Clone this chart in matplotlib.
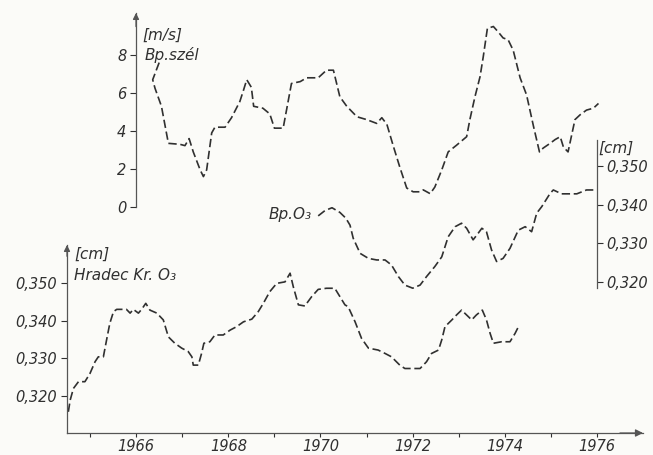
import matplotlib
matplotlib.use("Agg")
import matplotlib.pyplot as plt

# Bp. wind speed [m/s]
wind_years = [1966.50, 1966.36, 1966.41, 1966.55, 1966.70, 1966.95, 1967.06, 1967.15, 1967.24,
              1967.39, 1967.46, 1967.53, 1967.64, 1967.71, 1967.93, 1968.07, 1968.25, 1968.33,
              1968.40, 1968.50, 1968.55, 1968.75, 1968.90, 1969.00, 1969.19, 1969.37, 1969.56,
              1969.70, 1969.95, 1970.13, 1970.28, 1970.42, 1970.57, 1970.79, 1971.00, 1971.22,
              1971.33, 1971.44, 1971.58, 1971.72, 1971.87, 1972.01, 1972.16, 1972.23, 1972.38,
              1972.48, 1972.63, 1972.77, 1972.95, 1973.17, 1973.24, 1973.35, 1973.46, 1973.53,
              1973.62, 1973.75, 1973.86, 1973.96, 1974.07, 1974.18, 1974.33, 1974.47, 1974.62,
              1974.75, 1974.83, 1974.98, 1975.09, 1975.20, 1975.27, 1975.37, 1975.52, 1975.63,
              1975.77, 1975.92, 1976.03]
wind = [7.6, 6.7, 6.25, 5.3, 3.35, 3.3, 3.23, 3.6, 2.9,
        1.95, 1.6, 1.95, 3.9, 4.2, 4.2, 4.7, 5.55, 6.15,
        6.7, 6.3, 5.3, 5.2, 4.9, 4.15, 4.15, 6.5, 6.6,
        6.8, 6.8, 7.2, 7.2, 5.8, 5.3, 4.75, 4.6, 4.4,
        4.7, 4.35, 3.2, 2.1, 1.0, 0.8, 0.8, 0.9, 0.7,
        1.05, 1.95, 2.9, 3.25, 3.7, 4.6, 5.8, 6.85, 7.9,
        9.4, 9.5, 9.2, 8.9, 8.8, 8.25, 6.8, 5.9, 4.25,
        2.9, 3.1, 3.35, 3.55, 3.7, 3.15, 2.9, 4.6, 4.85,
        5.1, 5.2, 5.45]

# Bp. O3 [cm]
bp_years = [1969.95, 1970.10, 1970.25, 1970.42, 1970.55, 1970.64, 1970.71, 1970.86, 1971.04,
            1971.22, 1971.40, 1971.54, 1971.69, 1971.83, 1972.00, 1972.16, 1972.30, 1972.48,
            1972.63, 1972.77, 1972.92, 1973.06, 1973.17, 1973.31, 1973.42, 1973.50, 1973.60,
            1973.71, 1973.82, 1973.96, 1974.11, 1974.29, 1974.44, 1974.58, 1974.69, 1974.80,
            1974.98, 1975.05, 1975.23, 1975.56, 1975.77, 1975.99]
bp_o3 = [0.3371, 0.3385, 0.3392, 0.3380, 0.3365, 0.3347, 0.3313, 0.3274, 0.3261,
         0.3257, 0.3257, 0.3244, 0.3214, 0.3192, 0.3184, 0.3192, 0.3214, 0.3240,
         0.3265, 0.3317, 0.3343, 0.3352, 0.3339, 0.3309, 0.3326, 0.3339, 0.3330,
         0.3283, 0.3253, 0.3261, 0.3287, 0.3334, 0.3343, 0.3330, 0.3378, 0.3395,
         0.3429, 0.3438, 0.3428, 0.3428, 0.3438, 0.3438]

# Hradec Kralove O3 [cm]
hr_years = [1964.53, 1964.57, 1964.64, 1964.75, 1964.89, 1965.00, 1965.11, 1965.18, 1965.29,
            1965.36, 1965.43, 1965.51, 1965.58, 1965.79, 1965.87, 1965.94, 1966.05, 1966.12,
            1966.21, 1966.30, 1966.45, 1966.59, 1966.70, 1966.84, 1966.99, 1967.13, 1967.21,
            1967.24, 1967.35, 1967.42, 1967.47, 1967.60, 1967.71, 1967.89, 1968.04, 1968.18,
            1968.33, 1968.51, 1968.65, 1968.76, 1968.90, 1969.05, 1969.23, 1969.34, 1969.41,
            1969.52, 1969.66, 1969.81, 1969.95, 1970.13, 1970.31, 1970.42, 1970.53, 1970.60,
            1970.75, 1970.89, 1971.04, 1971.25, 1971.40, 1971.54, 1971.72, 1971.83, 1972.16,
            1972.30, 1972.41, 1972.56, 1972.63, 1972.70, 1972.85, 1972.95, 1973.06, 1973.17,
            1973.28, 1973.38, 1973.51, 1973.60, 1973.68, 1973.75, 1973.93, 1974.11, 1974.22,
            1974.31]
hr_o3 = [0.3158, 0.3189, 0.3220, 0.3238, 0.3238, 0.3260, 0.3291, 0.3304, 0.3304,
         0.3349, 0.3393, 0.3424, 0.3430, 0.3430, 0.3420, 0.3430, 0.3420, 0.3430,
         0.3446, 0.3428, 0.3420, 0.3402, 0.3357, 0.3340, 0.3327, 0.3318, 0.3304,
         0.3282, 0.3282, 0.3313, 0.3340, 0.3344, 0.3362, 0.3362, 0.3375, 0.3384,
         0.3397, 0.3404, 0.3424, 0.3446, 0.3477, 0.3499, 0.3503, 0.3526, 0.3490,
         0.3442, 0.3439, 0.3464, 0.3483, 0.3486, 0.3486, 0.3464, 0.3442, 0.3437,
         0.3397, 0.3353, 0.3327, 0.3322, 0.3313, 0.3304, 0.3282, 0.3273, 0.3273,
         0.3291, 0.3313, 0.3322, 0.3349, 0.3384, 0.3402, 0.3415, 0.3428, 0.3415,
         0.3402, 0.3415, 0.3428, 0.3402, 0.3366, 0.3340, 0.3344, 0.3344, 0.3366,
         0.3388]

year_ticks = list(range(1965, 1977))
year_labels = [str(y) if y % 2 == 0 else '' for y in year_ticks]
wind_ticks = [0, 2, 4, 6, 8]
o3_ticks = [0.320, 0.330, 0.340, 0.350]
o3_labels = ['0,320', '0,330', '0,340', '0,350']

W, H = 653, 455
ink = '#303030'
axis_ink = '#555555'
dash = (0, (5, 2.2))

plt.rcParams['font.family'] = 'DejaVu Sans'
plt.rcParams['font.style'] = 'italic'


def rect(l, t, r, b):
    # pixel box (from top-left) -> figure fraction
    return [l / W, 1 - b / H, (r - l) / W, (b - t) / H]


def year_at(px):
    return 1965 + (px - 90) / 46.1


def value_hr(py):
    return 0.320 + (396 - py) / 3767


def value_bp(py):
    return 0.320 + (282 - py) / 3867


fig = plt.figure(figsize=(6.53, 4.55), dpi=100)
fig.patch.set_facecolor('#fbfbf8')
xlim = (year_at(67), year_at(643))

ax_hr = fig.add_axes(rect(67, 245, 643, 433))
ax_bp = fig.add_axes(rect(67, 140, 643, 288))
ax_wind = fig.add_axes(rect(67, 13, 643, 207))

for ax in (ax_hr, ax_bp, ax_wind):
    ax.set_facecolor('none')
    ax.set_xlim(xlim)
    for s in ax.spines.values():
        s.set_visible(False)
        s.set_color(axis_ink)
        s.set_linewidth(0.9)
    ax.tick_params(colors=ink, labelcolor=ink, width=0.8, length=4, labelsize=10.5, pad=3)

# bottom chart
ax_hr.spines['left'].set_visible(True)
ax_hr.spines['bottom'].set_visible(True)
ax_hr.set_ylim(value_hr(433), value_hr(245))
ax_hr.set_yticks(o3_ticks)
ax_hr.set_yticklabels(o3_labels)
ax_hr.set_xticks(year_ticks)
ax_hr.set_xticklabels(year_labels)
ax_hr.tick_params(axis='x', length=3, pad=1)
ax_hr.plot(hr_years, hr_o3, ls=dash, lw=1.2, color=ink, clip_on=False)
ax_hr.annotate('', xy=(1, 0), xytext=(0.96, 0), xycoords='axes fraction',
               arrowprops=dict(arrowstyle='-|>', color=axis_ink, lw=0.9,
                               mutation_scale=11, shrinkA=0, shrinkB=0))
ax_hr.annotate('', xy=(0, 1), xytext=(0, 0.94), xycoords='axes fraction',
               arrowprops=dict(arrowstyle='-|>', color=axis_ink, lw=0.9,
                               mutation_scale=9, shrinkA=0, shrinkB=0))

# middle chart (right axis)
ax_bp.spines['right'].set_visible(True)
ax_bp.spines['right'].set_position(('data', year_at(597)))
ax_bp.yaxis.tick_right()
ax_bp.set_ylim(value_bp(288), value_bp(140))
ax_bp.set_yticks(o3_ticks)
ax_bp.set_yticklabels(o3_labels)
ax_bp.set_xticks([])
ax_bp.plot(bp_years, bp_o3, ls=dash, lw=1.2, color=ink, clip_on=False)

# top chart
ax_wind.spines['left'].set_visible(True)
ax_wind.spines['left'].set_position(('data', year_at(136)))
ax_wind.set_ylim(0, (207 - 13) / 19)
ax_wind.set_yticks(wind_ticks)
ax_wind.set_xticks([])
ax_wind.plot(wind_years, wind, ls=dash, lw=1.2, color=ink, clip_on=False)
ax_wind.annotate('', xy=(year_at(136), 1), xytext=(year_at(136), 0.93),
                 xycoords=('data', 'axes fraction'),
                 arrowprops=dict(arrowstyle='-|>', color=axis_ink, lw=0.9,
                                 mutation_scale=9, shrinkA=0, shrinkB=0))


# labels
def label(px, py, s):
    fig.text(px / W, 1 - py / H, s, fontsize=11, color=ink, ha='left', va='center')


label(142, 35, '[m/s]')
label(145, 55, 'Bp.szél')
label(598, 148, '[cm]')
label(269, 215, 'Bp.O₃')
label(74, 254, '[cm]')
label(74, 275, 'Hradec Kr. O₃')

fig.savefig('out.png', dpi=100, facecolor=fig.get_facecolor())
